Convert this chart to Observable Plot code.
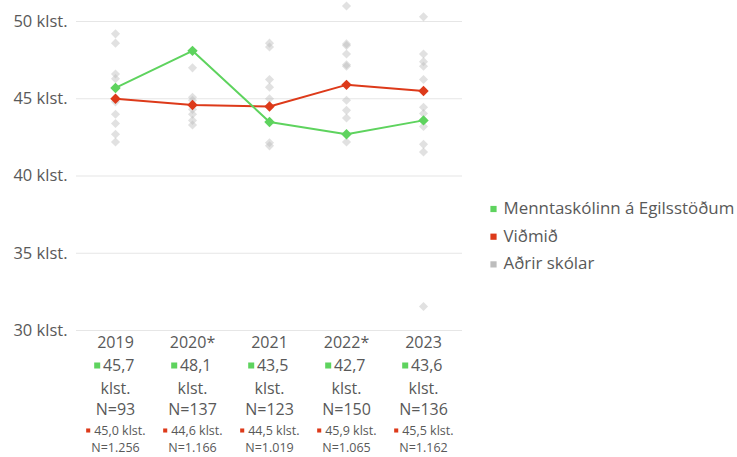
<!DOCTYPE html>
<html>
<head>
<meta charset="utf-8">
<script src="https://cdn.jsdelivr.net/npm/d3@7"></script>
<script src="https://cdn.jsdelivr.net/npm/@observablehq/plot@0.6"></script>
<style>
  html, body { margin: 0; padding: 0; background: #fff; }
</style>
</head>
<body>
<div id="chart"></div>
<script>
const years = ["2019", "2020*", "2021", "2022*", "2023"];
const school = [45.7, 48.1, 43.5, 42.7, 43.6];
const benchmark = [45.0, 44.6, 44.5, 45.9, 45.5];
const schoolN = [93, 137, 123, 150, 136];
const benchmarkN = [1256, 1166, 1019, 1065, 1162];
const others2019 = [49.2, 48.6, 46.6, 46.3, 45.0, 44.8, 44.0, 43.4, 42.7, 42.2];
const others2020 = [47.0, 45.1, 44.9, 44.3, 44.0, 43.6, 43.3];
const others2021 = [48.6, 48.35, 46.25, 45.75, 45.0, 42.15, 41.95];
const others2022 = [51.0, 48.55, 48.45, 47.9, 47.2, 47.1, 44.9, 44.25, 43.75, 42.2];
const others2023 = [50.3, 47.9, 47.4, 47.1, 46.25, 44.45, 44.05, 43.2, 42.05, 41.55, 31.55];
const yTicks = [30, 35, 40, 45, 50];
const legendLabels = ["Menntaskólinn á Egilsstöðum", "Viðmið", "Aðrir skólar"];

const GREEN = "#5ed35e", RED = "#dd3a1a", GREY = "#bdbdbd", TEXT = "#595959";
const fmt1 = v => v.toFixed(1).replace(".", ",");
const fmtN = v => String(v).replace(/\B(?=(\d{3})+(?!\d))/g, ".");

const othersAll = [others2019, others2020, others2021, others2022, others2023];
const othersData = othersAll.flatMap((arr, i) => arr.map(v => ({year: years[i], value: v})));
const schoolData = years.map((y, i) => ({year: y, value: school[i], n: schoolN[i]}));
const benchData = years.map((y, i) => ({year: y, value: benchmark[i], n: benchmarkN[i]}));

const legendColors = [GREEN, RED, GREY];
const legendMarks = legendLabels.flatMap((lab, i) => [
  Plot.dot([lab], {frameAnchor: "top-right", dx: 31, dy: 187.5 + i * 27.7, symbol: "square", r: 3.5, fill: legendColors[i]}),
  Plot.text([lab], {frameAnchor: "top-right", dx: 41, dy: 187 + i * 27.7, text: d => d, textAnchor: "start", lineAnchor: "middle", fontSize: 16.9, fill: TEXT})
]);

const bottomText = (data, opts) => Plot.text(data, {frameAnchor: "bottom", lineAnchor: "middle", fill: TEXT, ...opts});

const chart = Plot.plot({
  width: 737,
  height: 457,
  marginLeft: 76,
  marginRight: 275,
  marginTop: 21,
  marginBottom: 127,
  style: {fontFamily: "'Open Sans', 'Noto Sans', sans-serif", fontSize: "16px", color: TEXT, background: "#fff"},
  x: {type: "point", domain: years, padding: 0.5, axis: null},
  y: {domain: [30, 50]},
  marks: [
    Plot.ruleY(yTicks, {stroke: "#e6e6e6", strokeWidth: 1.2}),
    Plot.axisY({ticks: yTicks, tickFormat: d => `${d} klst.`, tickSize: 0, tickPadding: 9, fontSize: 16.5, label: null}),
    Plot.dot(othersData, {x: "year", y: "value", symbol: "diamond2", r: 4.1, fill: GREY, fillOpacity: 0.45}),
    Plot.line(benchData, {x: "year", y: "value", stroke: RED, strokeWidth: 2}),
    Plot.dot(benchData, {x: "year", y: "value", symbol: "diamond2", r: 4.7, fill: RED}),
    Plot.line(schoolData, {x: "year", y: "value", stroke: GREEN, strokeWidth: 2}),
    Plot.dot(schoolData, {x: "year", y: "value", symbol: "diamond2", r: 4.7, fill: GREEN}),
    // bottom labels
    bottomText(years, {x: d => d, text: d => d, dy: 12, fontSize: 16}),
    Plot.dot(schoolData, {x: "year", frameAnchor: "bottom", dx: -18.3, dy: 35, symbol: "square", r: 3.4, fill: GREEN}),
    bottomText(schoolData, {x: "year", text: d => fmt1(d.value), dx: -12.6, dy: 35, textAnchor: "start", fontSize: 16}),
    bottomText(schoolData, {x: "year", text: () => "klst.", dy: 58, fontSize: 16}),
    bottomText(schoolData, {x: "year", text: d => `N=${d.n}`, dy: 79, fontSize: 16}),
    Plot.dot(benchData, {x: "year", frameAnchor: "bottom", dx: -27.3, dy: 100, symbol: "square", r: 2.3, fill: RED}),
    bottomText(benchData, {x: "year", text: d => `${fmt1(d.value)} klst.`, dx: -21.3, dy: 100, textAnchor: "start", fontSize: 12.5}),
    bottomText(benchData, {x: "year", text: d => `N=${fmtN(d.n)}`, dy: 117.5, fontSize: 12.5}),
    ...legendMarks
  ]
});
document.getElementById("chart").appendChild(chart);
</script>
</body>
</html>
